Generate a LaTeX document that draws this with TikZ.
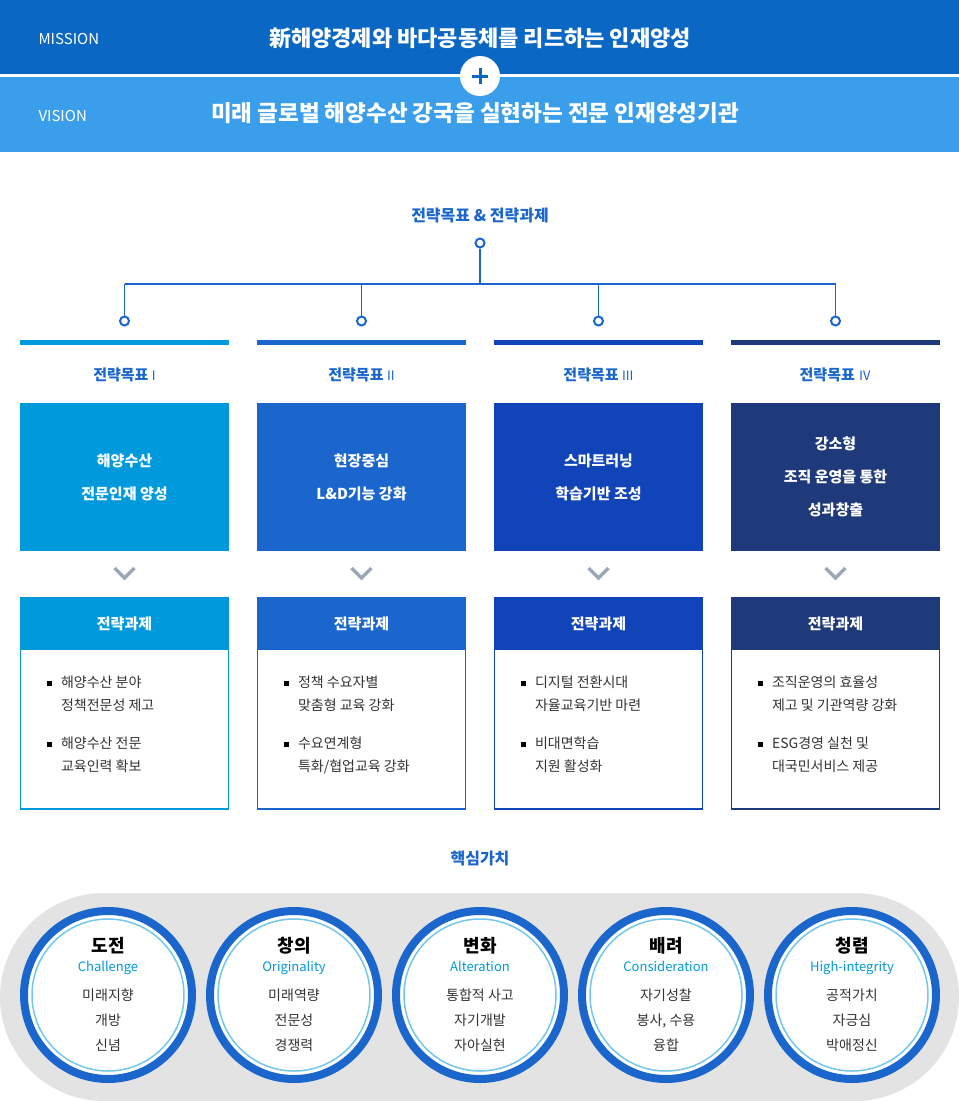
\documentclass[tikz,border=0pt]{standalone}
\usepackage{fontspec}
\setmainfont{Noto Sans CJK KR}
\usetikzlibrary{positioning}
\definecolor{goalA}{HTML}{009ADC}
\definecolor{goalB}{HTML}{1A66CC}
\definecolor{goalC}{HTML}{1044B8}
\definecolor{goalD}{HTML}{1E3A7B}
\definecolor{mission}{HTML}{0A68C4}
\definecolor{vision}{HTML}{3A9EEA}
\definecolor{ink}{HTML}{333333}
\definecolor{chev}{HTML}{9AA6B8}
\begin{document}
\begin{tikzpicture}[x=1pt,y=-1pt]
\tikzset{goalbox/.style = {minimum width=209pt, minimum height=148pt, inner sep=0pt,
		text=white, font=\fontsize{15}{33}\selectfont\bfseries, align=center}}
\tikzset{taskhead/.style = {minimum width=209pt, minimum height=53pt, inner sep=0pt,
		text=white, font=\fontsize{15}{18}\selectfont\bfseries}}
\tikzset{taskbody/.style = {draw, line width=1.5pt, minimum width=208pt, minimum height=210pt,
		inner sep=0pt, fill=white}}
\tikzset{bullets/.style = {text=ink, font=\fontsize{14}{23}\selectfont, align=left, anchor=north west}}
\tikzset{knob/.style = {circle, draw=goalB, line width=2pt, fill=white, minimum size=9pt, inner sep=0pt}}
\tikzset{valring/.style = {circle, draw=goalB, line width=8pt, fill=white, minimum size=168pt, inner sep=0pt}}
\useasboundingbox (0,0) rectangle (959,1101);
% banner
\fill[mission] (0,0) rectangle (959,74);
\fill[vision] (0,77) rectangle (959,152);
\node[text=white, font=\fontsize{15}{18}\selectfont, anchor=west] (mis) at (35,39) {MISSION};
\node[text=white, font=\fontsize{15}{18}\selectfont, anchor=west] (vis) at (35,116) {VISION};
\node[text=white, font=\fontsize{22}{24}\selectfont\bfseries] (mistxt) at (480,38) {新해양경제와 바다공동체를 리드하는 인재양성};
\node[text=white, font=\fontsize{22.5}{24}\selectfont\bfseries] (vistxt) at (475,113) {미래 글로벌 해양수산 강국을 실현하는 전문 인재양성기관};
\node[circle, fill=white, minimum size=40pt, inner sep=0pt] (plus) at (480,76) {};
\draw[mission, line width=3pt] (472,76) -- (488,76) (480,68) -- (480,84);
% tree
\node[text=goalB, font=\fontsize{16}{18}\selectfont\bfseries] (title) at (480,216) {전략목표 \& 전략과제};
\node[knob] (root) at (480,243) {};
\coordinate (hub) at (480,284);
\draw[goalB, line width=1.5pt] (root) -- (hub);
\draw[goalB, line width=1.5pt] (124.5,284) -- (835.5,284);
% columns
\foreach \i/\cx/\col/\num/\goal/\ta/\tb in {
	1/124.5/goalA/{I}/{해양수산\\전문인재 양성}/{해양수산 분야\\정책전문성 제고}/{해양수산 전문\\교육인력 확보},
	2/361.5/goalB/{II}/{현장중심\\L\&D기능 강화}/{정책 수요자별\\맞춤형 교육 강화}/{수요연계형\\특화/협업교육 강화},
	3/598.5/goalC/{III}/{스마트러닝\\학습기반 조성}/{디지털 전환시대\\자율교육기반 마련}/{비대면학습\\지원 활성화},
	4/835.5/goalD/{Ⅳ}/{강소형\\조직 운영을 통한\\성과창출}/{조직운영의 효율성\\제고 및 기관역량 강화}/{ESG경영 실천 및\\대국민서비스 제공}}{
	\node[knob] (k\i) at (\cx,321) {};
	\draw[goalB, line width=1.5pt] (\cx,284) -- (k\i);
	\fill[\col] (\cx-104.5,340) rectangle (\cx+104.5,345);
	\node[text=goalB, font=\fontsize{15}{18}\selectfont\bfseries] (g\i) at (\cx,375) {전략목표 {\fontsize{13}{18}\selectfont\mdseries\num}};
	\node[goalbox, fill=\col] (goal\i) at (\cx,477) {\goal};
	\draw[chev, line width=3.5pt] (\cx-10,568) -- (\cx,578) -- (\cx+10,568);
	\node[taskbody, draw=\col, anchor=north] (body\i) at (\cx,598) {};
	\node[taskhead, fill=\col, anchor=north] (head\i) at (\cx,597) {전략과제};
	\node[bullets] (ta\i) at (\cx-67,672) {\ta};
	\node[bullets] (tb\i) at (\cx-67,733) {\tb};
	\fill[black] (\cx-78,681) rectangle ++(5,5);
	\fill[black] (\cx-78,742) rectangle ++(5,5);
}
% core values
\node[text=goalB, font=\fontsize{16}{18}\selectfont\bfseries] (core) at (480,858) {핵심가치};
\fill[black!11] (104,893) -- (855,893) arc[start angle=-90, end angle=90, x radius=104pt, y radius=-104pt]
	-- (104,1101) arc[start angle=90, end angle=270, x radius=104pt, y radius=-104pt] -- cycle;
\foreach \i/\cx/\name/\eng/\vals in {
	1/108/도전/Challenge/{미래지향\\개방\\신념},
	2/294/창의/Originality/{미래역량\\전문성\\경쟁력},
	3/480/변화/Alteration/{통합적 사고\\자기개발\\자아실현},
	4/666/배려/Consideration/{자기성찰\\봉사, 수용\\융합},
	5/852/청렴/High-integrity/{공적가치\\자긍심\\박애정신}}{
	\node[valring] (v\i) at (\cx,995) {};
	\draw[goalA!55, line width=1.5pt] (v\i.center) circle[radius=76pt];
	\node[font=\fontsize{18}{20}\selectfont\bfseries, text=black] (vn\i) at (\cx,946) {\name};
	\node[font=\fontsize{13}{15}\selectfont, text=goalA, below=0pt of vn\i] (ve\i) {\eng};
	\node[font=\fontsize{14}{25}\selectfont, text=ink, align=center, anchor=north] (vv\i) at (\cx,985) {\vals};
}
\end{tikzpicture}
\end{document}
